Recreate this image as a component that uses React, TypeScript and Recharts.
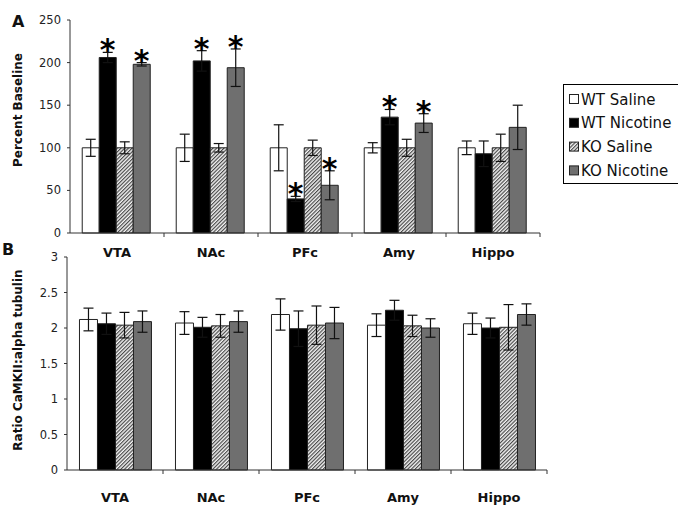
import React from 'react';
import { BarChart, Bar, XAxis, YAxis, ErrorBar } from 'recharts';

const REGIONS = ['VTA', 'NAc', 'PFc', 'Amy', 'Hippo'];
const SERIES_NAMES = ['WT Saline', 'WT Nicotine', 'KO Saline', 'KO Nicotine'];

// panel A - percent baseline
const A_WT_SALINE = [100, 100, 100, 100, 100];
const A_WT_SALINE_ERR = [10, 16, 27, 6, 8];
const A_WT_NIC = [206, 202, 40, 136, 93];
const A_WT_NIC_ERR = [6, 12, 3, 9, 15];
const A_KO_SALINE = [100, 100, 100, 100, 100];
const A_KO_SALINE_ERR = [7, 5, 9, 10, 16];
const A_KO_NIC = [198, 194, 56, 129, 124];
const A_KO_NIC_ERR = [2, 22, 17, 11, 26];
const A_WT_NIC_SIG = [true, true, true, true, false];
const A_KO_NIC_SIG = [true, true, true, true, false];
const A_TICKS = [0, 50, 100, 150, 200, 250];

// panel B - CaMKII / alpha tubulin
const B_WT_SALINE = [2.12, 2.07, 2.19, 2.04, 2.06];
const B_WT_SALINE_ERR = [0.16, 0.16, 0.22, 0.16, 0.15];
const B_WT_NIC = [2.06, 2.01, 1.99, 2.25, 2.0];
const B_WT_NIC_ERR = [0.15, 0.14, 0.25, 0.14, 0.14];
const B_KO_SALINE = [2.04, 2.03, 2.04, 2.03, 2.01];
const B_KO_SALINE_ERR = [0.18, 0.16, 0.27, 0.15, 0.32];
const B_KO_NIC = [2.09, 2.09, 2.07, 2.0, 2.19];
const B_KO_NIC_ERR = [0.15, 0.15, 0.22, 0.13, 0.15];
const B_TICKS = [0, 0.5, 1, 1.5, 2, 2.5, 3];

const FILLS = ['#ffffff', '#000000', 'url(#hatch)', '#6f6f6f'];
const FONT = '"DejaVu Sans", Verdana, sans-serif';

const dataA = REGIONS.map((r, i) => ({
  region: r,
  wtSal: A_WT_SALINE[i], wtSalErr: A_WT_SALINE_ERR[i],
  wtNic: A_WT_NIC[i], wtNicErr: A_WT_NIC_ERR[i],
  koSal: A_KO_SALINE[i], koSalErr: A_KO_SALINE_ERR[i],
  koNic: A_KO_NIC[i], koNicErr: A_KO_NIC_ERR[i],
}));

const dataB = REGIONS.map((r, i) => ({
  region: r,
  wtSal: B_WT_SALINE[i], wtSalErr: B_WT_SALINE_ERR[i],
  wtNic: B_WT_NIC[i], wtNicErr: B_WT_NIC_ERR[i],
  koSal: B_KO_SALINE[i], koSalErr: B_KO_SALINE_ERR[i],
  koNic: B_KO_NIC[i], koNicErr: B_KO_NIC_ERR[i],
}));

const KEYS = ['wtSal', 'wtNic', 'koSal', 'koNic'];

const CatTick = (props: any) => {
  const { x, y, payload, band, dy } = props;
  return (
    <g>
      <text x={x} y={y + dy} textAnchor="middle" fontFamily={FONT} fontWeight="bold" fontSize={13} fill="#111">
        {payload.value}
      </text>
      <line x1={x + band / 2} x2={x + band / 2} y1={y} y2={y + 4} stroke="#333" />
    </g>
  );
};

const starLabel = (sig: boolean[], err: number[]) => (p: any) => {
  const { x, y, width, height, value, index } = p;
  if (!sig[index] || !value) return null;
  const px = height / value;
  const top = y - err[index] * px;
  return (
    <text x={x + width / 2} y={top + 8} textAnchor="middle" fontFamily={FONT} fontWeight="bold" fontSize={30} fill="#000">
      *
    </text>
  );
};

const renderBars = (sigs: (boolean[] | null)[], errs: (number[] | null)[]) =>
  KEYS.map((k, i) => (
    <Bar
      key={k}
      dataKey={k}
      name={SERIES_NAMES[i]}
      fill={FILLS[i]}
      stroke="#222"
      strokeWidth={1}
      isAnimationActive={false}
      label={sigs[i] ? starLabel(sigs[i] as boolean[], errs[i] as number[]) : false}
    >
      <ErrorBar dataKey={k + 'Err'} width={5} stroke="#111" strokeWidth={1.2} direction="y" />
    </Bar>
  ));

const Legend = () => (
  <svg width={120} height={102} style={{ position: 'absolute', left: 563, top: 84 }}>
    <rect x={0.5} y={0.5} width={130} height={99} fill="#fff" stroke="#000" />
    {SERIES_NAMES.map((n, i) => (
      <g key={n}>
        <rect x={6.5} y={10.5 + i * 23.8} width={9} height={9} fill={FILLS[i]} stroke="#222" />
        <text x={18} y={20.5 + i * 23.8} fontFamily={FONT} fontSize={15} fill="#111">
          {n}
        </text>
      </g>
    ))}
  </svg>
);

export default function App() {
  return (
    <div style={{ position: 'absolute', left: 0, top: 0, width: 678, height: 506, overflow: 'hidden', background: '#fff', fontFamily: FONT }}>
      <svg width={0} height={0} style={{ position: 'absolute' }}>
        <defs>
          <pattern id="hatch" patternUnits="userSpaceOnUse" width={2.6} height={2.6} patternTransform="rotate(45)">
            <rect width={2.6} height={2.6} fill="#f4f4f4" />
            <line x1={0.6} y1={0} x2={0.6} y2={2.6} stroke="#3c3c3c" strokeWidth={1.1} />
          </pattern>
        </defs>
      </svg>

      <div style={{ position: 'absolute', left: 0, top: 0 }}>
        <BarChart width={560} height={262} data={dataA} margin={{ top: 20, right: 20, bottom: 0, left: 0 }} barCategoryGap="13%" barGap={0}>
          <XAxis dataKey="region" height={29} tickSize={0} tickMargin={0} axisLine={{ stroke: '#333' }} tick={<CatTick band={94} dy={24} />} interval={0} />
          <YAxis width={70} domain={[0, 250]} ticks={A_TICKS} tickSize={3} tickMargin={6} axisLine={{ stroke: '#333' }} tickLine={{ stroke: '#333' }} tick={{ fontSize: 11.5, fill: '#222', fontFamily: FONT }} />
          {renderBars([null, A_WT_NIC_SIG, null, A_KO_NIC_SIG], [null, A_WT_NIC_ERR, null, A_KO_NIC_ERR])}
        </BarChart>
      </div>

      <div style={{ position: 'absolute', left: 0, top: 240 }}>
        <BarChart width={560} height={266} data={dataB} margin={{ top: 17, right: 13, bottom: 0, left: 0 }} barCategoryGap="13%" barGap={0}>
          <XAxis dataKey="region" height={36} tickSize={0} tickMargin={0} axisLine={{ stroke: '#333' }} tick={<CatTick band={96} dy={32} />} interval={0} />
          <YAxis width={67} domain={[0, 3]} ticks={B_TICKS} tickSize={3} tickMargin={6} axisLine={{ stroke: '#333' }} tickLine={{ stroke: '#333' }} tick={{ fontSize: 11.5, fill: '#222', fontFamily: FONT }} />
          {renderBars([null, null, null, null], [null, null, null, null])}
        </BarChart>
      </div>

      <svg width={678} height={506} style={{ position: 'absolute', left: 0, top: 0, pointerEvents: 'none' }}>
        <text x={12} y={27} fontFamily={FONT} fontWeight="bold" fontSize={16} fill="#111">A</text>
        <text x={2} y={255} fontFamily={FONT} fontWeight="bold" fontSize={16} fill="#111">B</text>
        <text transform="translate(22,110) rotate(-90)" textAnchor="middle" fontFamily={FONT} fontWeight="bold" fontSize={12} fill="#111">
          Percent Baseline
        </text>
        <text transform="translate(22,360) rotate(-90)" textAnchor="middle" fontFamily={FONT} fontWeight="bold" fontSize={12} fill="#111">
          Ratio CaMKII:alpha tubulin
        </text>
      </svg>

      <Legend />
    </div>
  );
}
